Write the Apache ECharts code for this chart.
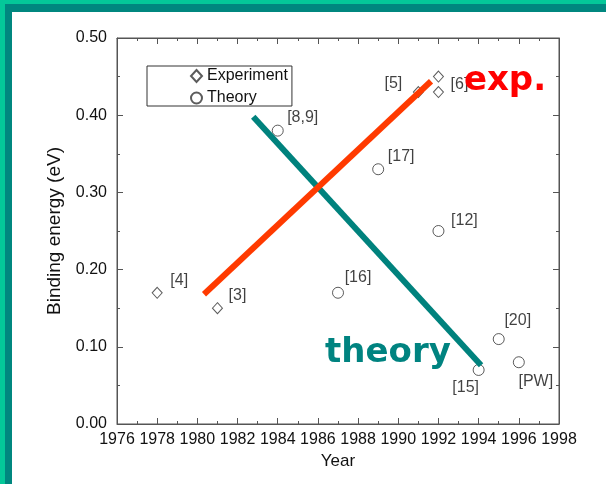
<!DOCTYPE html>
<html>
<head>
<meta charset="utf-8">
<script src="https://cdn.jsdelivr.net/npm/echarts@6/dist/echarts.min.js"></script>
<style>
  html, body { margin: 0; padding: 0; background: #ffffff; }
  #chart { width: 606px; height: 484px; }
</style>
</head>
<body>
<div id="chart"></div>
<script>
// Measured binding energies (eV) by publication year
const expYears  = [1978, 1981, 1991, 1992, 1992];
const expValues = [0.17, 0.15, 0.43, 0.45, 0.43];
const expRefs   = ['[4]', '[3]', '[5]', '[6]', ''];

// Calculated binding energies (eV) by publication year
const thYears  = [1984, 1987, 1989, 1992, 1994, 1995, 1996];
const thValues = [0.38, 0.17, 0.33, 0.25, 0.07, 0.11, 0.08];
const thRefs   = ['[8,9]', '[16]', '[17]', '[12]', '[15]', '[20]', '[PW]'];

// Hand-drawn trend strokes (year, eV)
const expTrendYears  = [1980.33, 1991.63];
const expTrendValues = [0.168, 0.444];
const thTrendYears   = [1982.78, 1994.12];
const thTrendValues  = [0.398, 0.076];

// Axis ranges
const yearMin = 1976, yearMax = 1998, yearStep = 2;
const eMin = 0, eMax = 0.5, eStep = 0.1;

// Where each reference tag sits relative to its marker (px)
const labelOffsets = {
  '[4]': [22, -12], '[3]': [20, -13], '[5]': [-25, -8], '[6]': [21, 8],
  '[8,9]': [25, -13], '[17]': [23, -13], '[12]': [26, -10], '[16]': [20, -15],
  '[15]': [-13, 18], '[20]': [19, -18], '[PW]': [17, 19]
};

const FONT = '"Liberation Sans", Arial, Helvetica, sans-serif';
const AXIS_COLOR = '#555';
const TEXT_COLOR = '#111';

function pointsWithTags(xs, ys, tags) {
  return xs.map((x, i) => {
    const tag = tags[i];
    const item = { value: [x, ys[i]] };
    if (tag) {
      item.label = { show: true, formatter: tag, offset: labelOffsets[tag] || [0, 0] };
    } else {
      item.label = { show: false };
    }
    return item;
  });
}

function pairs(xs, ys) { return xs.map((x, i) => [x, ys[i]]); }

const tickStyle = { show: true, inside: true, length: 6, lineStyle: { color: AXIS_COLOR, width: 1 } };
const minorStyle = { show: true, splitNumber: 2, length: 3, lineStyle: { color: AXIS_COLOR, width: 1 } };
const lineStyle = { show: true, onZero: false, lineStyle: { color: AXIS_COLOR, width: 1 } };

function xAxisDef(pos, withLabels) {
  return {
    type: 'value', position: pos, min: yearMin, max: yearMax, interval: yearStep,
    axisLine: lineStyle, axisTick: tickStyle, minorTick: minorStyle,
    splitLine: { show: false }, minorSplitLine: { show: false },
    axisLabel: withLabels ? {
      show: true, color: TEXT_COLOR, fontFamily: FONT, fontSize: 16, margin: 8,
      formatter: v => String(v)
    } : { show: false },
    name: withLabels ? 'Year' : '', nameLocation: 'middle', nameGap: 29,
    nameTextStyle: { color: TEXT_COLOR, fontFamily: FONT, fontSize: 17 }
  };
}

function yAxisDef(pos, withLabels) {
  return {
    type: 'value', position: pos, min: eMin, max: eMax, interval: eStep,
    axisLine: lineStyle, axisTick: tickStyle, minorTick: minorStyle,
    splitLine: { show: false }, minorSplitLine: { show: false },
    axisLabel: withLabels ? {
      show: true, color: TEXT_COLOR, fontFamily: FONT, fontSize: 16, margin: 10,
      formatter: v => v.toFixed(2)
    } : { show: false },
    name: withLabels ? 'Binding energy (eV)' : '', nameLocation: 'middle', nameGap: 53,
    nameTextStyle: { color: TEXT_COLOR, fontFamily: FONT, fontSize: 19 }
  };
}

const tagLabel = {
  show: true, position: 'inside', align: 'center', verticalAlign: 'middle',
  color: TEXT_COLOR, fontFamily: FONT, fontSize: 16
};

const chart = echarts.init(document.getElementById('chart'), null, { renderer: 'canvas' });

chart.setOption({
  backgroundColor: '#ffffff',
  animation: false,
  grid: { left: 117, right: 47, top: 38, bottom: 60, containLabel: false,
          show: true, borderColor: AXIS_COLOR, borderWidth: 1 },
  xAxis: [xAxisDef('bottom', true), xAxisDef('top', false)],
  yAxis: [yAxisDef('left', true), yAxisDef('right', false)],
  legend: {
    orient: 'vertical', left: 147, top: 66,
    padding: [2, 4, 0, 43], itemGap: 6, itemWidth: 11, itemHeight: 12,
    borderColor: '#333', borderWidth: 1, backgroundColor: '#fff',
    textStyle: { color: TEXT_COLOR, fontFamily: FONT, fontSize: 16 },
    data: ['Experiment', 'Theory']
  },
  series: [
    {
      name: 'Experiment', type: 'scatter', symbol: 'diamond', symbolSize: [10, 11],
      itemStyle: { color: '#ffffff', borderColor: '#333', borderWidth: 1 },
      label: tagLabel, z: 3,
      data: pointsWithTags(expYears, expValues, expRefs)
    },
    {
      name: 'Theory', type: 'scatter', symbol: 'circle', symbolSize: 11,
      itemStyle: { color: '#ffffff', borderColor: '#333', borderWidth: 1 },
      label: tagLabel, z: 3,
      data: pointsWithTags(thYears, thValues, thRefs)
    },
    {
      name: 'theory trend', type: 'line', showSymbol: false, symbol: 'none',
      lineStyle: { color: '#00827D', width: 6, cap: 'butt' }, z: 4,
      data: pairs(thTrendYears, thTrendValues)
    },
    {
      name: 'exp trend', type: 'line', showSymbol: false, symbol: 'none',
      lineStyle: { color: '#FF3A00', width: 6, cap: 'butt' }, z: 5,
      data: pairs(expTrendYears, expTrendValues)
    }
  ],
  graphic: [
    // slide frame along the top and left edges
    { type: 'rect', shape: { x: 0, y: 0, width: 606, height: 4 }, style: { fill: '#04C899' }, z: 10 },
    { type: 'rect', shape: { x: 0, y: 0, width: 5, height: 484 }, style: { fill: '#04C899' }, z: 10 },
    { type: 'rect', shape: { x: 5, y: 4, width: 601, height: 8 }, style: { fill: '#00877F' }, z: 11 },
    { type: 'rect', shape: { x: 5, y: 4, width: 7, height: 480 }, style: { fill: '#00877F' }, z: 11 },
    // annotations
    { type: 'text', x: 505, y: 81, z: 12,
      style: { text: 'exp.', fill: '#FF0000', font: 'bold 34px "DejaVu Sans", Verdana, sans-serif',
               textAlign: 'center', textVerticalAlign: 'middle' } },
    { type: 'text', x: 388, y: 353, z: 12,
      style: { text: 'theory', fill: '#008380', font: 'bold 34px "DejaVu Sans", Verdana, sans-serif',
               textAlign: 'center', textVerticalAlign: 'middle' } }
  ]
});
</script>
</body>
</html>
